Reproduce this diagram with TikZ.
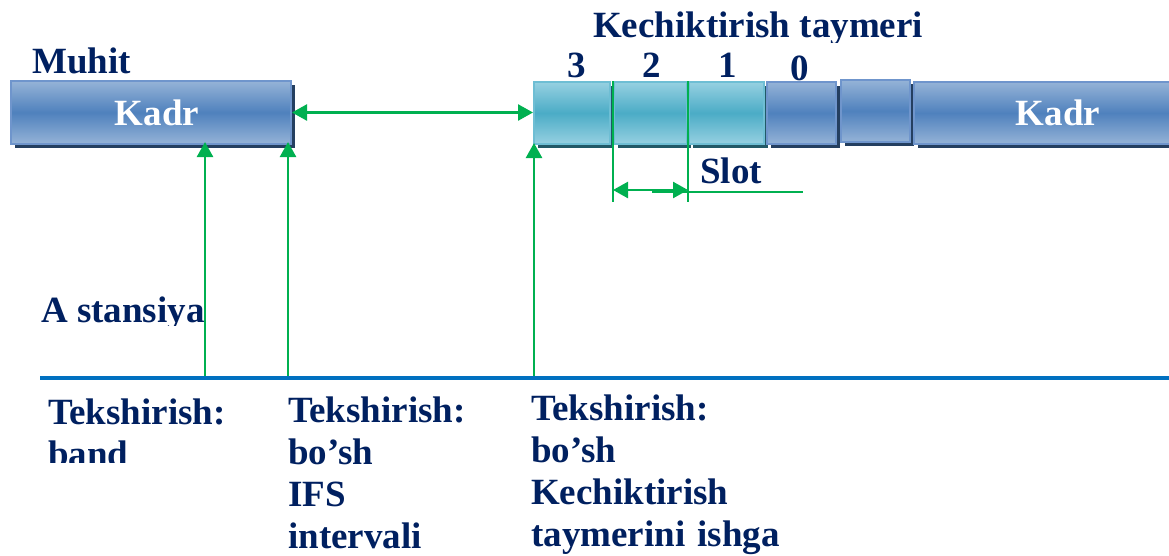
\documentclass[tikz,border=0pt]{standalone}
\usepackage{fontspec}
\setmainfont{Liberation Serif}
\usetikzlibrary{arrows.meta, shadows}
\definecolor{textnavy}{RGB}{0,32,96}
\definecolor{arrowgreen}{RGB}{0,176,80}
\definecolor{linkblue}{RGB}{0,112,192}
\definecolor{kadrlight}{RGB}{149,179,215}
\definecolor{kadrmid}{RGB}{79,129,189}
\definecolor{kadrborder}{RGB}{111,149,204}
\definecolor{kadrshadow}{RGB}{36,63,96}
\definecolor{slotlight}{RGB}{150,208,225}
\definecolor{slotmid}{RGB}{75,172,198}
\definecolor{slotborder}{RGB}{110,190,212}
\definecolor{slotshadow}{RGB}{33,89,103}
\newcommand{\diagfont}{\fontsize{37}{42}\selectfont\bfseries}

\begin{document}
\begin{tikzpicture}[
    x=1pt, y=-1pt,
    >={Triangle[length=15pt,width=16pt]},
    cellbox/.style={line width=2pt, inner sep=0pt, minimum height=62pt, text=white, font=\diagfont},
    kadrbox/.style={cellbox, draw=kadrborder, top color=kadrlight, bottom color=kadrlight, middle color=kadrmid, drop shadow={shadow xshift=4pt, shadow yshift=-4pt, fill=kadrshadow, opacity=1}},
    slotbox/.style={cellbox, draw=slotborder, top color=slotlight, bottom color=slotlight, middle color=slotmid, drop shadow={shadow xshift=4pt, shadow yshift=-4pt, fill=slotshadow, opacity=1}},
    lbl/.style={font=\diagfont, text=textnavy, inner sep=0pt, anchor=base west},
    garrow/.style={draw=arrowgreen, line width=2.5pt}
]
    \path[use as bounding box, fill=white] (0,0) rectangle (1169,555);

    % Headings
    \node[lbl] (muhit) at (32,73) {Muhit};
    \begin{scope}
        \clip (0,0) rectangle (1169,42);
        \node[lbl] (timer) at (593,37) {Kechiktirish taymeri};
    \end{scope}
    \foreach \d/\x/\y in {3/577/77, 2/652/77, 1/728/77, 0/800/80}
        \node[lbl, anchor=base] (d\d) at (\x,\y) {\d};

    % Medium
    \node[kadrbox, minimum width=280pt, minimum height=63pt] (kadrA) at (151,112.5) {\hspace*{12pt}Kadr};
    \node[slotbox, minimum width=76pt] (c3) at (572,113) {};
    \node[slotbox, minimum width=73pt] (c2) at (650.5,113) {};
    \node[slotbox, minimum width=75pt] (c1) at (726.5,113) {};
    \node[kadrbox, minimum width=69pt] (c0) at (801.5,113) {};
    \node[kadrbox, minimum width=69pt] (cx) at (875.5,111) {};
    \node[kadrbox, minimum width=288pt] (kadrB) at (1058,113) {Kadr};

    % Slot width
    \coordinate (slotbase) at (0,202);
    \coordinate (slotarrow) at (0,190);
    \coordinate (slotlineA) at (652,192);
    \coordinate (slotlineB) at (803,192);
    \draw[garrow] (c2.north west) -- (c2.north west |- slotbase);
    \draw[garrow] (c2.north east) -- (c2.north east |- slotbase);
    \draw[garrow, <->] (c2.west |- slotarrow) -- (c2.east |- slotarrow);
    \draw[garrow] (slotlineA) -- (slotlineB);
    \node[lbl] (slotlbl) at (700,183) {Slot};

    % Station A
    \coordinate (stA) at (40,378);
    \coordinate (stB) at (1169,378);
    \coordinate (checkA) at (205,378);
    \coordinate (checkB) at (288,378);
    \coordinate (checkC) at (534,378);
    \draw[garrow, <->] (kadrA.east) -- (kadrA.east -| c3.west);
    \draw[garrow, ->, shorten >=-3pt] (checkA) -- (checkA |- kadrA.south);
    \draw[garrow, ->, shorten >=-3pt] (checkB) -- (checkB |- kadrA.south);
    \draw[garrow, ->, shorten >=-2pt] (checkC) -- (checkC |- c3.south);
    \draw[linkblue, line width=4pt] (stA) -- (stB);
    \begin{scope}
        \clip (0,290) rectangle (400,325);
        \node[lbl] (stanA) at (41,322) {A stansiya};
    \end{scope}

    % Checks
    \begin{scope}
        \clip (0,380) rectangle (280,462);
        \node[lbl, text width=230pt, align=left] (check1) at (48,424) {Tekshirish:\\band};
    \end{scope}
    \node[lbl, text width=230pt, align=left] (check2) at (288,422) {Tekshirish:\\bo’sh\\IFS\\intervali};
    \node[lbl, text width=330pt, align=left] (check3) at (531,420) {Tekshirish:\\bo’sh\\Kechiktirish\\taymerini ishga};
\end{tikzpicture}
\end{document}
